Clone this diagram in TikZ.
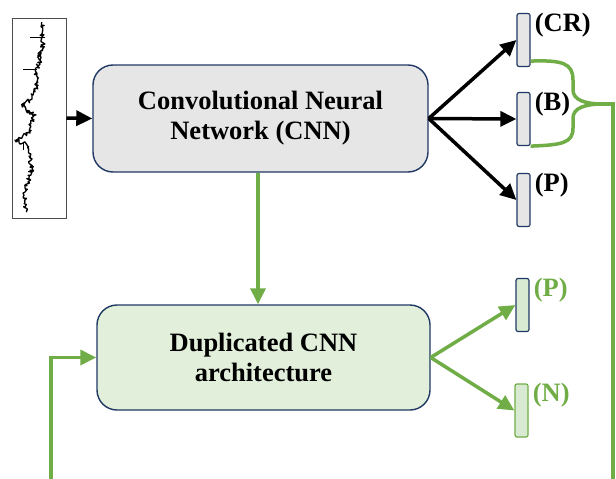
\documentclass[tikz,border=0pt]{standalone}
\usepackage{fontspec}
\setmainfont{Liberation Serif}
\usetikzlibrary{arrows.meta,positioning,decorations.pathmorphing}

\definecolor{navy}{HTML}{203864}
\definecolor{boxgray}{HTML}{E7E6E6}
\definecolor{grn}{HTML}{70AD47}
\definecolor{lightgrn}{HTML}{E2EFDA}
\definecolor{bargrn}{HTML}{D9EAD3}

\tikzset{
  bigtext/.style={font=\bfseries\fontsize{26.5}{30}\selectfont, align=center},
  cnnbox/.style={draw=navy, line width=1.4pt, fill=boxgray, rounded corners=20pt, bigtext},
  dupbox/.style={draw=navy, line width=1.4pt, fill=lightgrn, rounded corners=20pt, bigtext},
  outbar/.style={draw=navy, line width=1.2pt, fill=boxgray, rounded corners=2pt,
    minimum width=13pt, minimum height=53pt, inner sep=0pt},
  grnbar/.style={outbar, fill=bargrn},
  lbl/.style={font=\bfseries\fontsize{26.5}{30}\selectfont, inner sep=0pt, anchor=north west},
  blkarrow/.style={line width=3.5pt, -{Triangle[length=16pt,width=15pt]}},
  grnarrow/.style={draw=grn, line width=3.5pt, -{Triangle[length=16pt,width=15pt]}},
  grnline/.style={draw=grn, line width=3.5pt},
}

\begin{document}
\begin{tikzpicture}[x=1pt,y=-1pt]
  \useasboundingbox (0,0) rectangle (616,479);

  % input signal
  \node[draw=black!70, line width=1pt, minimum width=54pt, minimum height=200pt,
    inner sep=0pt] (signal) at (39,118) {};
  \pgfmathsetseed{7}
  \draw[line width=1.3pt, line join=round, decorate,
    decoration={random steps, segment length=1.1pt, amplitude=2.2pt}]
    (27,212) -- (25,202) -- (25,192) -- (28,182) -- (32,168) -- (30,158) -- (28,148)
    -- (23,143) -- (15,140) -- (30,133) -- (30,128) -- (32,120) -- (36,115) -- (30,112)
    -- (22,106) -- (24,103) -- (30,100) -- (33,95) -- (36,88) -- (38,82) -- (36,73)
    -- (38,66) -- (40,60) -- (38,55) -- (42,50) -- (43,45) -- (42,35) -- (42,23);
  \draw[line width=1pt] (23,142) -- (23,150);
  \draw[line width=1pt] (23,69) -- (37,69);
  \draw[line width=1pt] (30,37) -- (45,37);

  % main networks
  \node[cnnbox, minimum width=335pt, minimum height=107pt] (cnn) at (260.5,118.5)
    {Convolutional Neural\\Network (CNN)};
  \node[dupbox, minimum width=333pt, minimum height=105pt] (dup) at (263.5,357.5)
    {Duplicated CNN\\architecture};

  % output bars
  \node[outbar] (cr) at (523.5,40) {};
  \node[outbar] (b) at (523.5,119) {};
  \node[outbar] (p) at (523.5,200) {};
  \node[grnbar] (p2) at (522.5,305) {};
  \node[grnbar, draw=grn] (n) at (521.5,410.5) {};

  \node[lbl] (crlbl) at ([xshift=4pt]cr.north east) {(CR)};
  \node[lbl] (blbl) at ([xshift=4pt]b.north east) {(B)};
  \node[lbl] (plbl) at ([xshift=4pt]p.north east) {(P)};
  \node[lbl, text=grn] (p2lbl) at ([xshift=4pt]p2.north east) {(P)};
  \node[lbl, text=grn] (nlbl) at ([xshift=4pt]n.north east) {(N)};

  % connectors
  \draw[blkarrow] (signal.east) -- (cnn.west);
  \draw[blkarrow] (cnn.east) -- (cr.west);
  \draw[blkarrow] (cnn.east) -- (b.west);
  \draw[blkarrow] (cnn.east) -- (p.west);
  \draw[grnarrow] (cnn.south -| 258,0) -- (dup.north -| 258,0);
  \draw[grnarrow] (dup.east) -- (p2.west);
  \draw[grnarrow] (dup.east) -- (n.west);

  % brace and feedback
  \coordinate (tip) at (603,104);
  \coordinate (exit) at (613,479);
  \coordinate (entry) at (51,479);
  \draw[grnline] ([yshift=6pt]cr.south east) .. controls (562,60) and (573,63) .. (573,80)
    -- (573,90) .. controls (573,100) and (585,104) .. (tip)
    .. controls (585,104) and (573,108) .. (573,118) -- (573,128)
    .. controls (573,143) and (562,145) .. (b.south east);
  \draw[grnline] (tip) -| (exit);
  \draw[grnarrow] (entry) |- (dup.west);
\end{tikzpicture}
\end{document}
